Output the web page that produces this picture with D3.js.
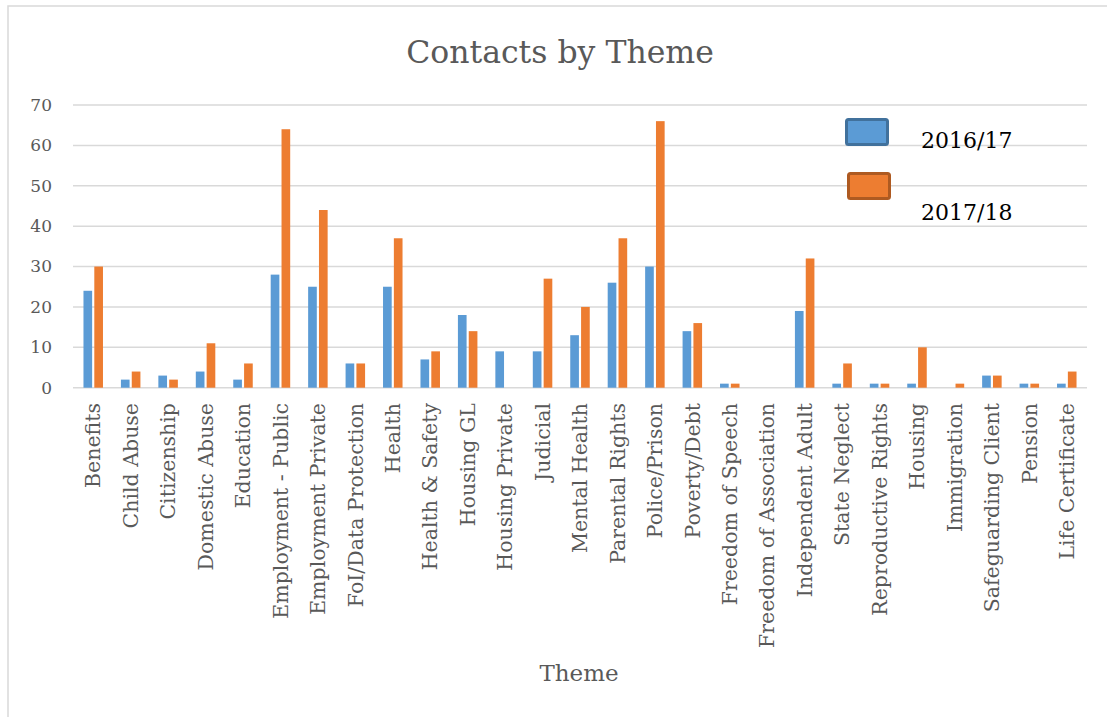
<!DOCTYPE html>
<html>
<head>
<meta charset="utf-8">
<script src="https://cdn.jsdelivr.net/npm/d3@7"></script>
<style>
  body { margin: 0; background: #fff; }
  text { font-family: "DejaVu Serif", "Liberation Serif", serif; }
</style>
</head>
<body>
<div id="wrapper"></div>
<script>
// categories (x axis), in chart order
var themes = ['Benefits', 'Child Abuse', 'Citizenship', 'Domestic Abuse', 'Education',
  'Employment - Public', 'Employment Private', 'FoI/Data Protection', 'Health', 'Health & Safety',
  'Housing GL', 'Housing Private', 'Judicial', 'Mental Health', 'Parental Rights', 'Police/Prison',
  'Poverty/Debt', 'Freedom of Speech', 'Freedom of Association', 'Independent Adult', 'State Neglect',
  'Reproductive Rights', 'Housing', 'Immigration', 'Safeguarding Client', 'Pension', 'Life Certificate'];

// series values
var series = ['2016/17', '2017/18'];
var v1617 = [24, 2, 3, 4, 2, 28, 25, 6, 25, 7, 18, 9, 9, 13, 26, 30, 14, 1, 0, 19, 1, 1, 1, 0, 3, 1, 1];
var v1718 = [30, 4, 2, 11, 6, 64, 44, 6, 37, 9, 14, 0, 27, 20, 37, 66, 16, 1, 0, 32, 6, 1, 10, 1, 3, 1, 4];

var yTicks = [0, 10, 20, 30, 40, 50, 60, 70];

var colors = ['#5B9BD5', '#ED7D31'];
var strokes = ['#41719C', '#AE5A21'];

var W = 1107, H = 717;
var svg = d3.select('#wrapper').append('svg').attr('width', W).attr('height', H);

// cadre du graphique
svg.append('rect').attr('x', 8).attr('y', 6).attr('width', W + 10).attr('height', H + 10)
  .attr('fill', 'none').attr('stroke', '#d9d9d9').attr('stroke-width', 1.5);

var x = d3.scaleBand().domain(themes).range([74.5, 1085.5]);
var xs = d3.scaleBand().domain(series).range([-9.75, 9.75]).paddingInner(0.2);
var y = d3.scaleLinear().domain([0, 70]).range([387.7, 105]);

// gridlines
svg.append('g').selectAll('line').data(yTicks).enter().append('line')
  .attr('x1', 73).attr('x2', 1087)
  .attr('y1', function(d) { return y(d); }).attr('y2', function(d) { return y(d); })
  .attr('stroke', '#d9d9d9').attr('stroke-width', 1.5);

// y tick labels
svg.append('g').selectAll('text').data(yTicks).enter().append('text')
  .attr('x', 52).attr('y', function(d) { return y(d); }).attr('dy', '0.35em')
  .attr('text-anchor', 'end').attr('fill', '#595959').style('font-size', '17px')
  .text(function(d) { return d; });

// bars
var vals = [v1617, v1718];
series.forEach(function(s, k) {
  svg.append('g').selectAll('rect').data(themes).enter().append('rect')
    .attr('x', function(d) { return x(d) + x.bandwidth() / 2 + xs(s); })
    .attr('width', xs.bandwidth())
    .attr('y', function(d, i) { return y(vals[k][i]); })
    .attr('height', function(d, i) { return y(0) - y(vals[k][i]); })
    .attr('fill', colors[k]);
});

// x labels, rotated
svg.append('g').selectAll('text').data(themes).enter().append('text')
  .attr('transform', function(d) { return 'translate(' + (x(d) + x.bandwidth() / 2) + ',403) rotate(-90)'; })
  .attr('dy', '0.35em').attr('text-anchor', 'end')
  .attr('fill', '#595959').style('font-size', '20.5px')
  .text(function(d) { return d; });

// title
svg.append('text').attr('x', 560).attr('y', 63).attr('text-anchor', 'middle')
  .attr('fill', '#595959').style('font-size', '31.5px').text('Contacts by Theme');

// axis title
svg.append('text').attr('x', 579).attr('y', 681).attr('text-anchor', 'middle')
  .attr('fill', '#595959').style('font-size', '23px').text('Theme');

// legend
var legY = [118, 172], legX = [845, 847], legTy = [148, 220];
series.forEach(function(s, k) {
  svg.append('rect').attr('x', legX[k] + 1.5).attr('y', legY[k] + 1.5).attr('width', 41).attr('height', 25)
    .attr('rx', 2).attr('fill', colors[k]).attr('stroke', strokes[k]).attr('stroke-width', 3);
  svg.append('text').attr('x', 921).attr('y', legTy[k]).attr('fill', '#000')
    .style('font-size', '22px').text(s);
});
</script>
</body>
</html>
